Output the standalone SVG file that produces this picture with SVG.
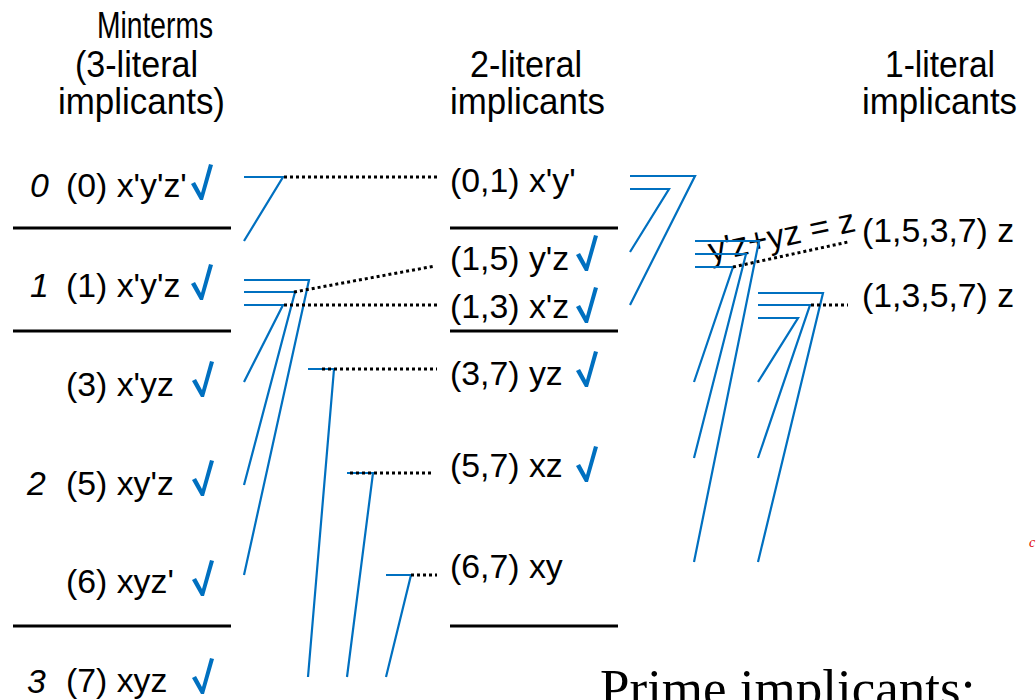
<svg xmlns="http://www.w3.org/2000/svg" width="1036" height="700" viewBox="0 0 1036 700">
<defs>
<style>
.t{font-family:"Liberation Sans",Arial,sans-serif;font-size:33.8px;fill:#000}
.h{font-family:"Liberation Sans",Arial,sans-serif;font-size:37px;fill:#000}
.n{font-family:"Liberation Sans",Arial,sans-serif;font-size:33.8px;font-style:italic;fill:#000}
.sep{stroke:#000;stroke-width:3;fill:none}
.b{stroke:#0070C0;stroke-width:2.2;fill:none}
.d{stroke:#000;stroke-width:3;stroke-dasharray:3 3;fill:none}
.ck{fill:#0070C0}
</style>
<path id="chk" d="M-10,-15 L-6,-17 L0,-6 L8,-35 L12,-34 L2,1 L-1,1 Z"/>
</defs>
<rect width="1036" height="700" fill="#fff"/>
<g id="headers">
<text class="h" x="97" y="38" textLength="116" lengthAdjust="spacingAndGlyphs">Minterms</text>
<text class="h" x="75" y="77" textLength="123" lengthAdjust="spacingAndGlyphs">(3-literal</text>
<text class="h" x="58" y="114" textLength="167" lengthAdjust="spacingAndGlyphs">implicants)</text>
<text class="h" x="470" y="77" textLength="112" lengthAdjust="spacingAndGlyphs">2-literal</text>
<text class="h" x="450" y="114" textLength="155" lengthAdjust="spacingAndGlyphs">implicants</text>
<text class="h" x="885" y="77" textLength="110" lengthAdjust="spacingAndGlyphs">1-literal</text>
<text class="h" x="862" y="114" textLength="155" lengthAdjust="spacingAndGlyphs">implicants</text>
</g>
<g id="separators">
<line class="sep" x1="13" y1="228" x2="231" y2="228"/>
<line class="sep" x1="13" y1="331" x2="231" y2="331"/>
<line class="sep" x1="13" y1="626" x2="231" y2="626"/>
<line class="sep" x1="450" y1="228" x2="618" y2="228"/>
<line class="sep" x1="450" y1="331" x2="618" y2="331"/>
<line class="sep" x1="450" y1="626" x2="618" y2="626"/>
</g>
<g id="group-numbers">
<text class="n" x="30" y="197">0</text>
<text class="n" x="30" y="297">1</text>
<text class="n" x="27" y="495">2</text>
<text class="n" x="27" y="693">3</text>
</g>
<g id="m0"><text class="t" x="66" y="197">(0) x'y'z'</text><use href="#chk" class="ck" x="201" y="199"/></g>
<g id="m1"><text class="t" x="66" y="297">(1) x'y'z</text><use href="#chk" class="ck" x="201" y="299"/></g>
<g id="m3"><text class="t" x="66" y="396">(3) x'yz</text><use href="#chk" class="ck" x="202" y="396"/></g>
<g id="m5"><text class="t" x="66" y="495">(5) xy'z</text><use href="#chk" class="ck" x="202" y="495"/></g>
<g id="m6"><text class="t" x="66" y="593">(6) xyz'</text><use href="#chk" class="ck" x="202" y="595"/></g>
<g id="m7"><text class="t" x="66" y="692">(7) xyz</text><use href="#chk" class="ck" x="202" y="693"/></g>
<g id="i01"><text class="t" x="450" y="192">(0,1) x'y'</text></g>
<g id="i15"><text class="t" x="450" y="270">(1,5) y'z</text><use href="#chk" class="ck" x="586" y="270"/></g>
<g id="i13"><text class="t" x="450" y="318">(1,3) x'z</text><use href="#chk" class="ck" x="586" y="322"/></g>
<g id="i37"><text class="t" x="450" y="385">(3,7) yz</text><use href="#chk" class="ck" x="586" y="386"/></g>
<g id="i57"><text class="t" x="450" y="477">(5,7) xz</text><use href="#chk" class="ck" x="586" y="481"/></g>
<g id="i67"><text class="t" x="450" y="578">(6,7) xy</text></g>
<g id="z1537"><text class="t" x="862" y="242">(1,5,3,7) z</text></g>
<g id="z1357"><text class="t" x="862" y="307">(1,3,5,7) z</text></g>
<g id="note"><text class="t" x="711" y="262" transform="rotate(-12 711 262)">y'z+yz = z</text></g>
<g id="connectors">
<polyline class="b" points="244,177 283,177 244,241"/>
<polyline class="b" points="244,280 309,280 244,575"/>
<polyline class="b" points="244,292 295,292 244,485"/>
<polyline class="b" points="244,305 283,305 244,382"/>
<polyline class="b" points="308,369 334,369 308,677"/>
<polyline class="b" points="347,473 373,473 347,677"/>
<polyline class="b" points="386,575 411,575 386,677"/>
<polyline class="b" points="630,176 695,176 630,305"/>
<polyline class="b" points="630,189 669,189 630,252"/>
<polyline class="b" points="695,241 759,241 694,562"/>
<polyline class="b" points="695,254 746,254 694,458"/>
<polyline class="b" points="695,267 733,267 694,382"/>
<polyline class="b" points="758,293 823,293 758,562"/>
<polyline class="b" points="758,305 810,305 758,458"/>
<polyline class="b" points="758,318 798,318 758,382"/>
<line class="d" x1="284" y1="177" x2="437" y2="177"/>
<line class="d" x1="294" y1="292" x2="435" y2="266"/>
<line class="d" x1="284" y1="305" x2="437" y2="305"/>
<line class="d" x1="322" y1="369" x2="437" y2="369"/>
<line class="d" x1="350" y1="473" x2="433" y2="473"/>
<line class="d" x1="411" y1="575" x2="437" y2="575"/>
<line class="d" x1="733" y1="267" x2="848" y2="242"/>
<line class="d" x1="811" y1="305" x2="848" y2="305"/>
</g>
<text x="1029" y="547" font-family="Liberation Serif,serif" font-style="italic" font-size="14" fill="#e00000">c</text>
<text x="600" y="706" font-family="Liberation Serif,'Times New Roman',serif" font-size="53" fill="#000">Prime implicants:</text>
</svg>
